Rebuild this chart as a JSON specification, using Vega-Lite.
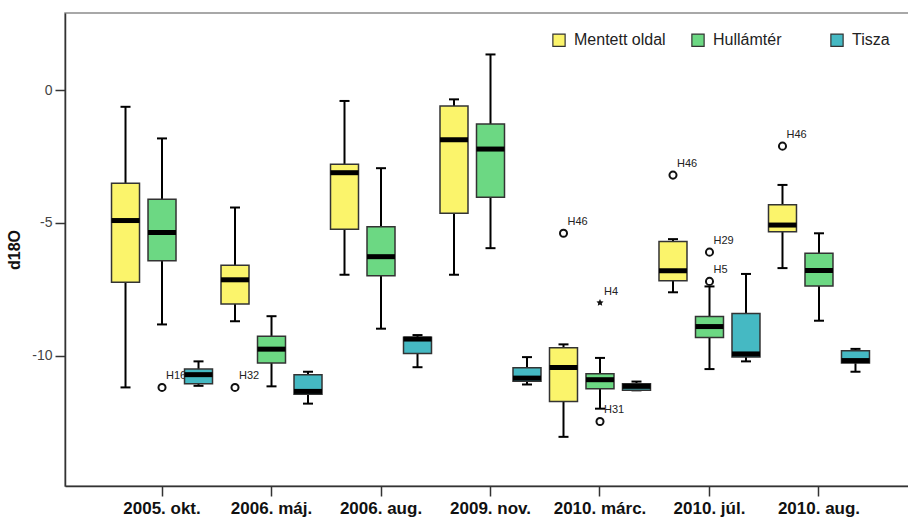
{
  "$schema": "https://vega.github.io/schema/vega-lite/v6.json",
  "autosize": "none",
  "width": 851,
  "height": 473,
  "padding": {"left": 65, "top": 13, "right": -8, "bottom": 34},
  "background": "white",
  "config": {
    "view": {"stroke": "#8c8c8c", "strokeWidth": 1.5},
    "font": "Liberation Sans"
  },
  "datasets": {
    "boxes": [
      {"date": "2005. okt.", "group": "Mentett oldal", "lo": -11.19, "q1": -7.23, "med": -4.91, "q3": -3.51, "hi": -0.63},
      {"date": "2005. okt.", "group": "Hullámtér", "lo": -8.82, "q1": -6.42, "med": -5.36, "q3": -4.11, "hi": -1.82},
      {"date": "2005. okt.", "group": "Tisza", "lo": -11.13, "q1": -11.05, "med": -10.71, "q3": -10.5, "hi": -10.21},
      {"date": "2006. máj.", "group": "Mentett oldal", "lo": -8.7, "q1": -8.05, "med": -7.14, "q3": -6.59, "hi": -4.42},
      {"date": "2006. máj.", "group": "Hullámtér", "lo": -11.15, "q1": -10.27, "med": -9.75, "q3": -9.26, "hi": -8.51},
      {"date": "2006. máj.", "group": "Tisza", "lo": -11.8, "q1": -11.45, "med": -11.34, "q3": -10.71, "hi": -10.6},
      {"date": "2006. aug.", "group": "Mentett oldal", "lo": -6.95, "q1": -5.24, "med": -3.11, "q3": -2.79, "hi": -0.41},
      {"date": "2006. aug.", "group": "Hullámtér", "lo": -8.98, "q1": -6.99, "med": -6.27, "q3": -5.14, "hi": -2.94},
      {"date": "2006. aug.", "group": "Tisza", "lo": -10.43, "q1": -9.91, "med": -9.37, "q3": -9.3, "hi": -9.22},
      {"date": "2009. nov.", "group": "Mentett oldal", "lo": -6.95, "q1": -4.64, "med": -1.87, "q3": -0.6, "hi": -0.35},
      {"date": "2009. nov.", "group": "Hullámtér", "lo": -5.95, "q1": -4.03, "med": -2.22, "q3": -1.28, "hi": 1.34},
      {"date": "2009. nov.", "group": "Tisza", "lo": -11.08, "q1": -10.96, "med": -10.84, "q3": -10.45, "hi": -10.05},
      {"date": "2010. márc.", "group": "Mentett oldal", "lo": -13.05, "q1": -11.72, "med": -10.44, "q3": -9.7, "hi": -9.57},
      {"date": "2010. márc.", "group": "Hullámtér", "lo": -11.99, "q1": -11.24, "med": -10.9, "q3": -10.68, "hi": -10.08},
      {"date": "2010. márc.", "group": "Tisza", "lo": -11.3, "q1": -11.3, "med": -11.15, "q3": -11.05, "hi": -10.97},
      {"date": "2010. júl.", "group": "Mentett oldal", "lo": -7.61, "q1": -7.18, "med": -6.8, "q3": -5.7, "hi": -5.61},
      {"date": "2010. júl.", "group": "Hullámtér", "lo": -10.5, "q1": -9.31, "med": -8.9, "q3": -8.52, "hi": -7.39},
      {"date": "2010. júl.", "group": "Tisza", "lo": -10.21, "q1": -10.05, "med": -9.93, "q3": -8.41, "hi": -6.92},
      {"date": "2010. aug.", "group": "Mentett oldal", "lo": -6.7, "q1": -5.33, "med": -5.08, "q3": -4.32, "hi": -3.57},
      {"date": "2010. aug.", "group": "Hullámtér", "lo": -8.68, "q1": -7.37, "med": -6.79, "q3": -6.14, "hi": -5.39},
      {"date": "2010. aug.", "group": "Tisza", "lo": -10.6, "q1": -10.27, "med": -10.18, "q3": -9.81, "hi": -9.74}
    ],
    "outliers": [
      {"date": "2005. okt.", "group": "Hullámtér", "value": -11.19, "id": "H16", "type": "mild"},
      {"date": "2006. máj.", "group": "Mentett oldal", "value": -11.19, "id": "H32", "type": "mild"},
      {"date": "2010. márc.", "group": "Mentett oldal", "value": -5.39, "id": "H46", "type": "mild"},
      {"date": "2010. márc.", "group": "Hullámtér", "value": -8.0, "id": "H4", "type": "extreme"},
      {"date": "2010. márc.", "group": "Hullámtér", "value": -12.47, "id": "H31", "type": "mild"},
      {"date": "2010. júl.", "group": "Mentett oldal", "value": -3.2, "id": "H46", "type": "mild"},
      {"date": "2010. júl.", "group": "Hullámtér", "value": -6.1, "id": "H29", "type": "mild"},
      {"date": "2010. júl.", "group": "Hullámtér", "value": -7.2, "id": "H5", "type": "mild"},
      {"date": "2010. aug.", "group": "Mentett oldal", "value": -2.11, "id": "H46", "type": "mild"}
    ]
  },
  "encoding": {
    "x": {
      "field": "date",
      "type": "nominal",
      "sort": ["2005. okt.", "2006. máj.", "2006. aug.", "2009. nov.", "2010. márc.", "2010. júl.", "2010. aug."],
      "scale": {"paddingInner": 0, "paddingOuter": 0.386},
      "axis": {
        "title": null,
        "labelAngle": 0,
        "labelFont": "Liberation Sans",
        "labelFontSize": 17,
        "labelFontWeight": "bold",
        "labelColor": "#111",
        "labelPadding": 4,
        "tickSize": 10,
        "tickColor": "#333",
        "tickWidth": 1.5,
        "domainColor": "#333",
        "domainWidth": 1.5
      }
    },
    "xOffset": {
      "field": "group",
      "type": "nominal",
      "sort": ["Mentett oldal", "Hullámtér", "Tisza"],
      "scale": {"paddingInner": 0.233, "paddingOuter": 0.1165}
    }
  },
  "layer": [
    {
      "data": {"name": "outliers"},
      "mark": {"type": "text", "align": "left", "baseline": "middle", "dx": 4, "dy": -11, "fontSize": 11, "font": "Liberation Sans", "color": "#222"},
      "encoding": {
        "y": {"field": "value", "type": "quantitative"},
        "text": {"field": "id"}
      }
    },
    {
      "data": {"name": "boxes"},
      "mark": {"type": "rule", "color": "#000", "strokeWidth": 2},
      "encoding": {
        "y": {
          "field": "lo",
          "type": "quantitative",
          "scale": {"domain": [-14.9, 2.9], "nice": false, "zero": false},
          "axis": {
            "title": "d18O",
            "titleFont": "Liberation Sans",
            "titleFontSize": 16,
            "titleFontWeight": "bold",
            "titleColor": "#111",
            "titlePadding": 9,
            "values": [-10, -5, 0],
            "labelExpr": "'' + datum.value",
            "labelFont": "Liberation Sans",
            "labelFontSize": 14,
            "labelColor": "#444",
            "labelPadding": 3,
            "tickSize": 10,
            "tickColor": "#333",
            "tickWidth": 1.5,
            "domainColor": "#333",
            "domainWidth": 1.5,
            "grid": false
          }
        },
        "y2": {"field": "hi"}
      }
    },
    {
      "data": {"name": "boxes"},
      "mark": {"type": "tick", "color": "#000", "size": 10, "thickness": 2, "opacity": 1},
      "encoding": {"y": {"field": "lo", "type": "quantitative"}}
    },
    {
      "data": {"name": "boxes"},
      "mark": {"type": "tick", "color": "#000", "size": 10, "thickness": 2, "opacity": 1},
      "encoding": {"y": {"field": "hi", "type": "quantitative"}}
    },
    {
      "data": {"name": "boxes"},
      "mark": {"type": "bar", "stroke": "#333", "strokeWidth": 1.5, "opacity": 1},
      "encoding": {
        "y": {"field": "q1", "type": "quantitative"},
        "y2": {"field": "q3"},
        "fill": {
          "field": "group",
          "type": "nominal",
          "sort": ["Mentett oldal", "Hullámtér", "Tisza"],
          "scale": {"domain": ["Mentett oldal", "Hullámtér", "Tisza"], "range": ["#fbf46b", "#6cd883", "#45b9c3"]},
          "legend": {
            "title": null,
            "orient": "none",
            "legendX": 486,
            "legendY": 19,
            "direction": "horizontal",
            "columns": 3,
            "gridAlign": "all",
            "columnPadding": 23,
            "padding": 0,
            "symbolType": "square",
            "symbolSize": 150,
            "symbolStrokeColor": "#333",
            "symbolStrokeWidth": 1.2,
            "symbolOpacity": 1,
            "labelFont": "Liberation Sans",
            "labelFontSize": 16,
            "labelColor": "#222",
            "labelOffset": 7,
            "labelLimit": 200
          }
        }
      }
    },
    {
      "data": {"name": "boxes"},
      "mark": {"type": "tick", "color": "#000", "size": 28, "thickness": 5, "opacity": 1},
      "encoding": {"y": {"field": "med", "type": "quantitative"}}
    },
    {
      "data": {"name": "outliers"},
      "transform": [{"filter": "datum.type === 'mild'"}],
      "mark": {"type": "point", "shape": "circle", "filled": false, "stroke": "#111", "strokeWidth": 2, "size": 50, "opacity": 1},
      "encoding": {"y": {"field": "value", "type": "quantitative"}}
    },
    {
      "data": {"name": "outliers"},
      "transform": [{"filter": "datum.type === 'extreme'"}],
      "mark": {"type": "point", "shape": "M0,-1L0.29,-0.4L0.95,-0.31L0.48,0.15L0.59,0.81L0,0.5L-0.59,0.81L-0.48,0.15L-0.95,-0.31L-0.29,-0.4Z", "filled": true, "fill": "#111", "size": 55, "opacity": 1},
      "encoding": {"y": {"field": "value", "type": "quantitative"}}
    }
  ]
}
